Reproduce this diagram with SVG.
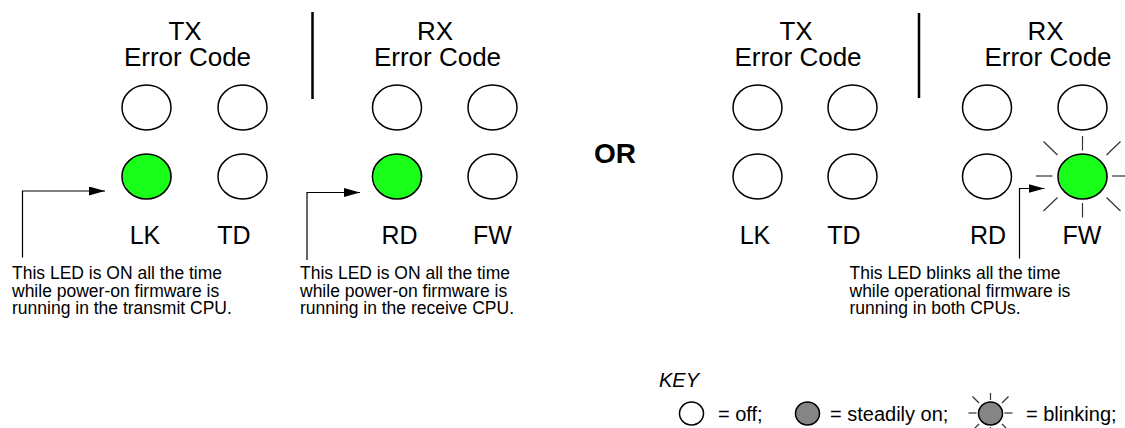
<svg xmlns="http://www.w3.org/2000/svg" width="1125" height="428" viewBox="0 0 1125 428">
<defs>
<style>
.big{font-family:"Liberation Sans",Arial,sans-serif;font-size:26px;fill:#000;text-anchor:middle}
.lbl{font-family:"Liberation Sans",Arial,sans-serif;font-size:25px;fill:#000;text-anchor:middle}
.note{font-family:"Liberation Sans",Arial,sans-serif;font-size:17.5px;fill:#000}
.key{font-family:"Liberation Sans",Arial,sans-serif;font-size:20px;fill:#000}
.or{font-family:"Liberation Sans",Arial,sans-serif;font-size:28px;font-weight:bold;fill:#000;text-anchor:middle}
.off{fill:#fff;stroke:#000;stroke-width:1.5}
.on{fill:none;stroke:#000;stroke-width:1.6}
.glow{fill:#19ff19}
.grey{fill:#858585;stroke:#000;stroke-width:1.5}
.div{stroke:#000;stroke-width:2.5}
.ray{stroke:#333;stroke-width:1.2}
.conn{fill:none;stroke:#000;stroke-width:1.2}
</style>
<marker id="ah" markerUnits="userSpaceOnUse" markerWidth="17" markerHeight="10" refX="16" refY="4.5" orient="auto">
<path d="M0,0 L16,4.5 L0,9 z" fill="#000"/>
</marker>
</defs>
<rect width="1125" height="428" fill="#fff"/>

<!-- Left panel -->
<g id="left-tx-title"><text class="big" x="185" y="40">TX</text><text class="big" x="187.5" y="66">Error Code</text></g>
<line class="div" x1="312.5" y1="12" x2="312.5" y2="99"/>
<g id="left-rx-title"><text class="big" x="435" y="40">RX</text><text class="big" x="437.5" y="66">Error Code</text></g>

<g id="L-tx1"><ellipse class="off" cx="146.5" cy="107.5" rx="24.5" ry="22.5"/></g>
<g id="L-tx2"><ellipse class="off" cx="242.5" cy="107.5" rx="24.5" ry="22.5"/></g>
<g id="L-lk"><ellipse class="glow" cx="147.3" cy="176.5" rx="24.5" ry="22.5"/><ellipse class="on" cx="146.5" cy="176.5" rx="24.5" ry="22.5"/></g>
<g id="L-td"><ellipse class="off" cx="242.5" cy="176.5" rx="24.5" ry="22.5"/></g>
<g id="L-rx1"><ellipse class="off" cx="397" cy="107.5" rx="24.5" ry="22.5"/></g>
<g id="L-rx2"><ellipse class="off" cx="492.5" cy="107.5" rx="24.5" ry="22.5"/></g>
<g id="L-rd"><ellipse class="glow" cx="397.8" cy="176.5" rx="24.5" ry="22.5"/><ellipse class="on" cx="397" cy="176.5" rx="24.5" ry="22.5"/></g>
<g id="L-fw"><ellipse class="off" cx="492.5" cy="176.5" rx="24.5" ry="22.5"/></g>

<g id="left-labels">
<text class="lbl" x="145" y="243.5">LK</text>
<text class="lbl" x="234" y="243.5">TD</text>
<text class="lbl" x="399.5" y="243.5">RD</text>
<text class="lbl" x="492.5" y="243.5">FW</text>
</g>

<g id="note1"><text class="note" x="12" y="279">This LED is ON all the time</text><text class="note" x="12" y="296.5">while power-on firmware is</text><text class="note" x="12" y="314">running in the transmit CPU.</text></g>
<g id="note2"><text class="note" x="300" y="279">This LED is ON all the time</text><text class="note" x="300" y="296.5">while power-on firmware is</text><text class="note" x="300" y="314">running in the receive CPU.</text></g>

<text class="or" x="615" y="163">OR</text>

<!-- Right panel -->
<g id="right-tx-title"><text class="big" x="796" y="40">TX</text><text class="big" x="798" y="66">Error Code</text></g>
<line class="div" x1="919" y1="13" x2="919" y2="98"/>
<g id="right-rx-title"><text class="big" x="1045.5" y="40">RX</text><text class="big" x="1048" y="66">Error Code</text></g>

<g id="R-tx1"><ellipse class="off" cx="757.5" cy="107.5" rx="24.5" ry="22.5"/></g>
<g id="R-tx2"><ellipse class="off" cx="852.5" cy="107.5" rx="24.5" ry="22.5"/></g>
<g id="R-lk"><ellipse class="off" cx="757.5" cy="176.5" rx="24.5" ry="22.5"/></g>
<g id="R-td"><ellipse class="off" cx="852.5" cy="176.5" rx="24.5" ry="22.5"/></g>
<g id="R-rx1"><ellipse class="off" cx="987" cy="107.5" rx="24.5" ry="22.5"/></g>
<g id="R-rx2"><ellipse class="off" cx="1082.5" cy="107.5" rx="24.5" ry="22.5"/></g>
<g id="R-rd"><ellipse class="off" cx="987" cy="176.5" rx="24.5" ry="22.5"/></g>
<g id="R-fw">
<g class="ray">
<line x1="1082.5" y1="136" x2="1082.5" y2="150.5"/>
<line x1="1082.5" y1="203" x2="1082.5" y2="217.5"/>
<line x1="1036" y1="176" x2="1052.5" y2="176"/>
<line x1="1112" y1="176" x2="1128" y2="176"/>
<line x1="1043.5" y1="141.5" x2="1057.5" y2="155"/>
<line x1="1106.5" y1="155" x2="1120.5" y2="141.5"/>
<line x1="1043.5" y1="211" x2="1057.5" y2="197.5"/>
<line x1="1106.5" y1="197.5" x2="1120.5" y2="211"/>
</g>
<ellipse class="glow" cx="1083.3" cy="176.5" rx="24.5" ry="22.5"/><ellipse class="on" cx="1082.5" cy="176.5" rx="24.5" ry="22.5"/>
</g>

<g id="right-labels">
<text class="lbl" x="755" y="243.5">LK</text>
<text class="lbl" x="844" y="243.5">TD</text>
<text class="lbl" x="988" y="243.5">RD</text>
<text class="lbl" x="1082" y="243.5">FW</text>
</g>

<g id="note3"><text class="note" x="849.5" y="279">This LED blinks all the time</text><text class="note" x="849.5" y="296.5">while operational firmware is</text><text class="note" x="849.5" y="314">running in both CPUs.</text></g>

<!-- Connectors -->
<g id="connectors">
<path class="conn" d="M22.5,257.5 V191 H105" marker-end="url(#ah)"/>
<path class="conn" d="M307,260 V192.5 H360" marker-end="url(#ah)"/>
<path class="conn" d="M1019.5,258.5 V188.5 H1044.5" marker-end="url(#ah)"/>
</g>

<!-- Key -->
<g id="key">
<text class="key" x="659" y="387" font-style="italic">KEY</text>
<g id="key-off"><ellipse class="off" cx="691.5" cy="413.5" rx="12" ry="11.5"/><text class="key" x="718" y="421">= off;</text></g>
<g id="key-on"><ellipse class="grey" cx="807.5" cy="413.5" rx="12" ry="11.5"/><text class="key" x="830" y="421">= steadily on;</text></g>
<g id="key-blink">
<g class="ray">
<line x1="990.5" y1="393" x2="990.5" y2="400"/>
<line x1="990.5" y1="427" x2="990.5" y2="434"/>
<line x1="968.5" y1="413" x2="976.5" y2="413"/>
<line x1="1004.5" y1="413" x2="1012.5" y2="413"/>
<line x1="972.5" y1="396.5" x2="979" y2="403"/>
<line x1="1002" y1="403" x2="1008.5" y2="396.5"/>
<line x1="972.5" y1="430.5" x2="979" y2="424"/>
<line x1="1002" y1="424" x2="1008.5" y2="430.5"/>
</g>
<ellipse class="grey" cx="990.5" cy="413.5" rx="12" ry="11.5"/>
<text class="key" x="1026" y="421">= blinking;</text>
</g>
</g>
</svg>
